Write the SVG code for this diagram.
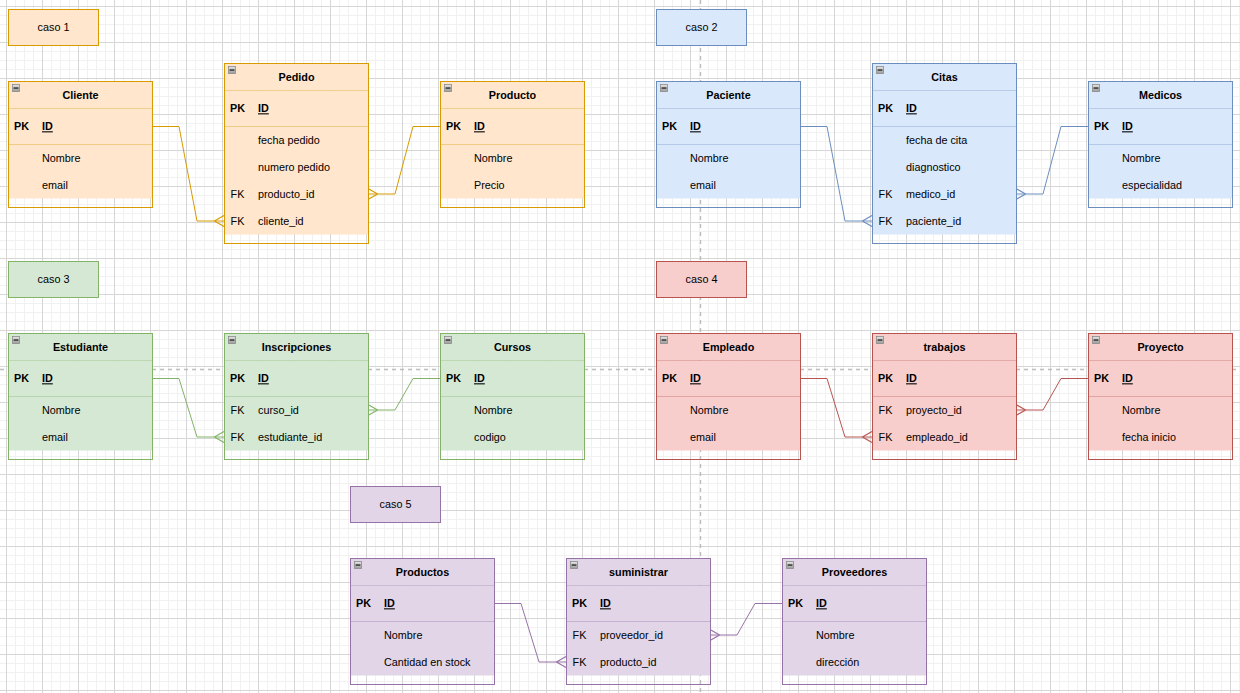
<svg xmlns="http://www.w3.org/2000/svg" xmlns:xlink="http://www.w3.org/1999/xlink" width="1240" height="693" viewBox="0 0 1240 693">
  <style>
    .t { font-family: "Liberation Sans", Arial, Helvetica, sans-serif; font-size: 10.8px; fill: #000; }
    .h { font-weight: bold; text-anchor: middle; }
    .k { text-anchor: middle; }
    .pk { font-weight: bold; }
    .u { text-decoration: underline; }
    .c { text-anchor: middle; }
    .frame { fill: none; stroke-width: 1; }
    .sep { stroke-width: 1; stroke-opacity: 0.35; }
    .orange .hd, .orange .bd, .orange.box { fill: #ffe6cc; }
    .orange .frame, .orange .sep, .orange.box { stroke: #d79b00; }
    .blue .hd, .blue .bd, .blue.box { fill: #dae8fc; }
    .blue .frame, .blue .sep, .blue.box { stroke: #6c8ebf; }
    .green .hd, .green .bd, .green.box { fill: #d5e8d4; }
    .green .frame, .green .sep, .green.box { stroke: #82b366; }
    .red .hd, .red .bd, .red.box { fill: #f8cecc; }
    .red .frame, .red .sep, .red.box { stroke: #b85450; }
    .purple .hd, .purple .bd, .purple.box { fill: #e1d5e7; }
    .purple .frame, .purple .sep, .purple.box { stroke: #9673a6; }
    .edge { fill: none; stroke-width: 1; }
    .e-orange { stroke: #d79b00; marker-end: url(#many-orange); }
    .e-blue { stroke: #6c8ebf; marker-end: url(#many-blue); }
    .e-green { stroke: #82b366; marker-end: url(#many-green); }
    .e-red { stroke: #b85450; marker-end: url(#many-red); }
    .e-purple { stroke: #9673a6; marker-end: url(#many-purple); }
    .guide { stroke: #bdbdbd; stroke-width: 1.4; stroke-dasharray: 4 4; fill: none; }
  </style>
  <defs>
    <pattern id="grid" x="6" y="6" width="36" height="36" patternUnits="userSpaceOnUse">
      <rect width="36" height="36" fill="#ffffff"/>
      <g fill="#f1f1f1">
        <rect x="9" y="0" width="1" height="36"/>
        <rect x="18" y="0" width="1" height="36"/>
        <rect x="27" y="0" width="1" height="36"/>
        <rect x="0" y="9" width="36" height="1"/>
        <rect x="0" y="18" width="36" height="1"/>
        <rect x="0" y="27" width="36" height="1"/>
      </g>
      <g fill="#d6d6d6">
        <rect x="0" y="0" width="1" height="36"/>
        <rect x="0" y="0" width="36" height="1"/>
      </g>
    </pattern>
    <linearGradient id="btn" x1="0" y1="0" x2="0" y2="1">
      <stop offset="0" stop-color="#e6e6e6"/>
      <stop offset="1" stop-color="#9a9a9a"/>
    </linearGradient>
    <symbol id="collapse" width="8" height="8" viewBox="0 0 8 8" overflow="visible">
      <rect x="0.5" y="0.5" width="7" height="7" fill="url(#btn)" stroke="#8a8a8a" stroke-width="0.8"/>
      <rect x="1.6" y="3.4" width="4.8" height="1.3" fill="#222"/>
    </symbol>
    <marker id="many-orange" markerUnits="userSpaceOnUse" markerWidth="12" markerHeight="12" viewBox="0 0 10 10" refX="9" refY="5" orient="auto" overflow="visible">
      <path d="M1,5 L9,0.5 M1,5 L9,9.5" fill="none" stroke="#d79b00" stroke-width="1"/>
    </marker>
    <marker id="many-blue" markerUnits="userSpaceOnUse" markerWidth="12" markerHeight="12" viewBox="0 0 10 10" refX="9" refY="5" orient="auto" overflow="visible">
      <path d="M1,5 L9,0.5 M1,5 L9,9.5" fill="none" stroke="#6c8ebf" stroke-width="1"/>
    </marker>
    <marker id="many-green" markerUnits="userSpaceOnUse" markerWidth="12" markerHeight="12" viewBox="0 0 10 10" refX="9" refY="5" orient="auto" overflow="visible">
      <path d="M1,5 L9,0.5 M1,5 L9,9.5" fill="none" stroke="#82b366" stroke-width="1"/>
    </marker>
    <marker id="many-red" markerUnits="userSpaceOnUse" markerWidth="12" markerHeight="12" viewBox="0 0 10 10" refX="9" refY="5" orient="auto" overflow="visible">
      <path d="M1,5 L9,0.5 M1,5 L9,9.5" fill="none" stroke="#b85450" stroke-width="1"/>
    </marker>
    <marker id="many-purple" markerUnits="userSpaceOnUse" markerWidth="12" markerHeight="12" viewBox="0 0 10 10" refX="9" refY="5" orient="auto" overflow="visible">
      <path d="M1,5 L9,0.5 M1,5 L9,9.5" fill="none" stroke="#9673a6" stroke-width="1"/>
    </marker>
  </defs>

  <!-- canvas grid -->
  <rect width="1240" height="693" fill="url(#grid)"/>

  <!-- dashed guide lines splitting the page -->
  <g id="guides">
    <line class="guide" x1="700.5" y1="0" x2="700.5" y2="693"/>
    <line class="guide" x1="0" y1="369.5" x2="1240" y2="369.5"/>
  </g>

  <!-- case labels -->
  <g id="caso1"><rect class="box orange" x="8.5" y="9.5" width="90" height="36"/><text class="t c" x="53.5" y="31.3">caso 1</text></g>
  <g id="caso2"><rect class="box blue" x="656.5" y="9.5" width="90" height="36"/><text class="t c" x="701.5" y="31.3">caso 2</text></g>
  <g id="caso3"><rect class="box green" x="8.5" y="261.5" width="90" height="36"/><text class="t c" x="53.5" y="283.3">caso 3</text></g>
  <g id="caso4"><rect class="box red" x="656.5" y="261.5" width="90" height="36"/><text class="t c" x="701.5" y="283.3">caso 4</text></g>
  <g id="caso5"><rect class="box purple" x="350.5" y="486.5" width="90" height="36"/><text class="t c" x="395.5" y="508.3">caso 5</text></g>

  <!-- connectors (crow's foot at the "many" end) -->
  <g id="connectors">
    <path class="edge e-orange" d="M152,126.5 H179 L197,221 H224"/>
    <path class="edge e-orange" d="M440,126.5 H413 L395,194 H368"/>
    <path class="edge e-blue" d="M800,126.5 H827 L845,221 H872"/>
    <path class="edge e-blue" d="M1088,126.5 H1061 L1043,194 H1016"/>
    <path class="edge e-green" d="M152,378.5 H179 L197,437 H224"/>
    <path class="edge e-green" d="M440,378.5 H413 L395,410 H368"/>
    <path class="edge e-red" d="M800,378.5 H827 L845,437 H872"/>
    <path class="edge e-red" d="M1088,378.5 H1061 L1043,410 H1016"/>
    <path class="edge e-purple" d="M494,603.5 H521 L539,662 H566"/>
    <path class="edge e-purple" d="M782,603.5 H755 L737,635 H710"/>
  </g>

  <!-- ===== caso 1 ===== -->
  <g id="cliente" class="orange" transform="translate(8.5,81.5)">
    <rect class="hd" width="144" height="27"/><rect class="bd" y="27" width="144" height="90"/>
    <line class="sep" x1="0" y1="27" x2="144" y2="27"/><line class="sep" x1="0" y1="63" x2="144" y2="63"/>
    <rect class="frame" width="144" height="126"/><use href="#collapse" x="3.5" y="2.5" width="8" height="8"/>
    <text class="t h" x="72" y="17.5">Cliente</text>
    <text class="t k pk" x="13" y="48.8">PK</text><text class="t pk u" x="33.5" y="48.8">ID</text>
    <text class="t" x="33.5" y="80.3">Nombre</text>
    <text class="t" x="33.5" y="107.3">email</text>
  </g>
  <g id="pedido" class="orange" transform="translate(224.5,63.5)">
    <rect class="hd" width="144" height="27"/><rect class="bd" y="27" width="144" height="144"/>
    <line class="sep" x1="0" y1="27" x2="144" y2="27"/><line class="sep" x1="0" y1="63" x2="144" y2="63"/>
    <rect class="frame" width="144" height="180"/><use href="#collapse" x="3.5" y="2.5" width="8" height="8"/>
    <text class="t h" x="72" y="17.5">Pedido</text>
    <text class="t k pk" x="13" y="48.8">PK</text><text class="t pk u" x="33.5" y="48.8">ID</text>
    <text class="t" x="33.5" y="80.3">fecha pedido</text>
    <text class="t" x="33.5" y="107.3">numero pedido</text>
    <text class="t k" x="13" y="134.3">FK</text><text class="t" x="33.5" y="134.3">producto_id</text>
    <text class="t k" x="13" y="161.3">FK</text><text class="t" x="33.5" y="161.3">cliente_id</text>
  </g>
  <g id="producto" class="orange" transform="translate(440.5,81.5)">
    <rect class="hd" width="144" height="27"/><rect class="bd" y="27" width="144" height="90"/>
    <line class="sep" x1="0" y1="27" x2="144" y2="27"/><line class="sep" x1="0" y1="63" x2="144" y2="63"/>
    <rect class="frame" width="144" height="126"/><use href="#collapse" x="3.5" y="2.5" width="8" height="8"/>
    <text class="t h" x="72" y="17.5">Producto</text>
    <text class="t k pk" x="13" y="48.8">PK</text><text class="t pk u" x="33.5" y="48.8">ID</text>
    <text class="t" x="33.5" y="80.3">Nombre</text>
    <text class="t" x="33.5" y="107.3">Precio</text>
  </g>

  <!-- ===== caso 2 ===== -->
  <g id="paciente" class="blue" transform="translate(656.5,81.5)">
    <rect class="hd" width="144" height="27"/><rect class="bd" y="27" width="144" height="90"/>
    <line class="sep" x1="0" y1="27" x2="144" y2="27"/><line class="sep" x1="0" y1="63" x2="144" y2="63"/>
    <rect class="frame" width="144" height="126"/><use href="#collapse" x="3.5" y="2.5" width="8" height="8"/>
    <text class="t h" x="72" y="17.5">Paciente</text>
    <text class="t k pk" x="13" y="48.8">PK</text><text class="t pk u" x="33.5" y="48.8">ID</text>
    <text class="t" x="33.5" y="80.3">Nombre</text>
    <text class="t" x="33.5" y="107.3">email</text>
  </g>
  <g id="citas" class="blue" transform="translate(872.5,63.5)">
    <rect class="hd" width="144" height="27"/><rect class="bd" y="27" width="144" height="144"/>
    <line class="sep" x1="0" y1="27" x2="144" y2="27"/><line class="sep" x1="0" y1="63" x2="144" y2="63"/>
    <rect class="frame" width="144" height="180"/><use href="#collapse" x="3.5" y="2.5" width="8" height="8"/>
    <text class="t h" x="72" y="17.5">Citas</text>
    <text class="t k pk" x="13" y="48.8">PK</text><text class="t pk u" x="33.5" y="48.8">ID</text>
    <text class="t" x="33.5" y="80.3">fecha de cita</text>
    <text class="t" x="33.5" y="107.3">diagnostico</text>
    <text class="t k" x="13" y="134.3">FK</text><text class="t" x="33.5" y="134.3">medico_id</text>
    <text class="t k" x="13" y="161.3">FK</text><text class="t" x="33.5" y="161.3">paciente_id</text>
  </g>
  <g id="medicos" class="blue" transform="translate(1088.5,81.5)">
    <rect class="hd" width="144" height="27"/><rect class="bd" y="27" width="144" height="90"/>
    <line class="sep" x1="0" y1="27" x2="144" y2="27"/><line class="sep" x1="0" y1="63" x2="144" y2="63"/>
    <rect class="frame" width="144" height="126"/><use href="#collapse" x="3.5" y="2.5" width="8" height="8"/>
    <text class="t h" x="72" y="17.5">Medicos</text>
    <text class="t k pk" x="13" y="48.8">PK</text><text class="t pk u" x="33.5" y="48.8">ID</text>
    <text class="t" x="33.5" y="80.3">Nombre</text>
    <text class="t" x="33.5" y="107.3">especialidad</text>
  </g>

  <!-- ===== caso 3 ===== -->
  <g id="estudiante" class="green" transform="translate(8.5,333.5)">
    <rect class="hd" width="144" height="27"/><rect class="bd" y="27" width="144" height="90"/>
    <line class="sep" x1="0" y1="27" x2="144" y2="27"/><line class="sep" x1="0" y1="63" x2="144" y2="63"/>
    <rect class="frame" width="144" height="126"/><use href="#collapse" x="3.5" y="2.5" width="8" height="8"/>
    <text class="t h" x="72" y="17.5">Estudiante</text>
    <text class="t k pk" x="13" y="48.8">PK</text><text class="t pk u" x="33.5" y="48.8">ID</text>
    <text class="t" x="33.5" y="80.3">Nombre</text>
    <text class="t" x="33.5" y="107.3">email</text>
  </g>
  <g id="inscripciones" class="green" transform="translate(224.5,333.5)">
    <rect class="hd" width="144" height="27"/><rect class="bd" y="27" width="144" height="90"/>
    <line class="sep" x1="0" y1="27" x2="144" y2="27"/><line class="sep" x1="0" y1="63" x2="144" y2="63"/>
    <rect class="frame" width="144" height="126"/><use href="#collapse" x="3.5" y="2.5" width="8" height="8"/>
    <text class="t h" x="72" y="17.5">Inscripciones</text>
    <text class="t k pk" x="13" y="48.8">PK</text><text class="t pk u" x="33.5" y="48.8">ID</text>
    <text class="t k" x="13" y="80.3">FK</text><text class="t" x="33.5" y="80.3">curso_id</text>
    <text class="t k" x="13" y="107.3">FK</text><text class="t" x="33.5" y="107.3">estudiante_id</text>
  </g>
  <g id="cursos" class="green" transform="translate(440.5,333.5)">
    <rect class="hd" width="144" height="27"/><rect class="bd" y="27" width="144" height="90"/>
    <line class="sep" x1="0" y1="27" x2="144" y2="27"/><line class="sep" x1="0" y1="63" x2="144" y2="63"/>
    <rect class="frame" width="144" height="126"/><use href="#collapse" x="3.5" y="2.5" width="8" height="8"/>
    <text class="t h" x="72" y="17.5">Cursos</text>
    <text class="t k pk" x="13" y="48.8">PK</text><text class="t pk u" x="33.5" y="48.8">ID</text>
    <text class="t" x="33.5" y="80.3">Nombre</text>
    <text class="t" x="33.5" y="107.3">codigo</text>
  </g>

  <!-- ===== caso 4 ===== -->
  <g id="empleado" class="red" transform="translate(656.5,333.5)">
    <rect class="hd" width="144" height="27"/><rect class="bd" y="27" width="144" height="90"/>
    <line class="sep" x1="0" y1="27" x2="144" y2="27"/><line class="sep" x1="0" y1="63" x2="144" y2="63"/>
    <rect class="frame" width="144" height="126"/><use href="#collapse" x="3.5" y="2.5" width="8" height="8"/>
    <text class="t h" x="72" y="17.5">Empleado</text>
    <text class="t k pk" x="13" y="48.8">PK</text><text class="t pk u" x="33.5" y="48.8">ID</text>
    <text class="t" x="33.5" y="80.3">Nombre</text>
    <text class="t" x="33.5" y="107.3">email</text>
  </g>
  <g id="trabajos" class="red" transform="translate(872.5,333.5)">
    <rect class="hd" width="144" height="27"/><rect class="bd" y="27" width="144" height="90"/>
    <line class="sep" x1="0" y1="27" x2="144" y2="27"/><line class="sep" x1="0" y1="63" x2="144" y2="63"/>
    <rect class="frame" width="144" height="126"/><use href="#collapse" x="3.5" y="2.5" width="8" height="8"/>
    <text class="t h" x="72" y="17.5">trabajos</text>
    <text class="t k pk" x="13" y="48.8">PK</text><text class="t pk u" x="33.5" y="48.8">ID</text>
    <text class="t k" x="13" y="80.3">FK</text><text class="t" x="33.5" y="80.3">proyecto_id</text>
    <text class="t k" x="13" y="107.3">FK</text><text class="t" x="33.5" y="107.3">empleado_id</text>
  </g>
  <g id="proyecto" class="red" transform="translate(1088.5,333.5)">
    <rect class="hd" width="144" height="27"/><rect class="bd" y="27" width="144" height="90"/>
    <line class="sep" x1="0" y1="27" x2="144" y2="27"/><line class="sep" x1="0" y1="63" x2="144" y2="63"/>
    <rect class="frame" width="144" height="126"/><use href="#collapse" x="3.5" y="2.5" width="8" height="8"/>
    <text class="t h" x="72" y="17.5">Proyecto</text>
    <text class="t k pk" x="13" y="48.8">PK</text><text class="t pk u" x="33.5" y="48.8">ID</text>
    <text class="t" x="33.5" y="80.3">Nombre</text>
    <text class="t" x="33.5" y="107.3">fecha inicio</text>
  </g>

  <!-- ===== caso 5 ===== -->
  <g id="productos" class="purple" transform="translate(350.5,558.5)">
    <rect class="hd" width="144" height="27"/><rect class="bd" y="27" width="144" height="90"/>
    <line class="sep" x1="0" y1="27" x2="144" y2="27"/><line class="sep" x1="0" y1="63" x2="144" y2="63"/>
    <rect class="frame" width="144" height="126"/><use href="#collapse" x="3.5" y="2.5" width="8" height="8"/>
    <text class="t h" x="72" y="17.5">Productos</text>
    <text class="t k pk" x="13" y="48.8">PK</text><text class="t pk u" x="33.5" y="48.8">ID</text>
    <text class="t" x="33.5" y="80.3">Nombre</text>
    <text class="t" x="33.5" y="107.3">Cantidad en stock</text>
  </g>
  <g id="suministrar" class="purple" transform="translate(566.5,558.5)">
    <rect class="hd" width="144" height="27"/><rect class="bd" y="27" width="144" height="90"/>
    <line class="sep" x1="0" y1="27" x2="144" y2="27"/><line class="sep" x1="0" y1="63" x2="144" y2="63"/>
    <rect class="frame" width="144" height="126"/><use href="#collapse" x="3.5" y="2.5" width="8" height="8"/>
    <text class="t h" x="72" y="17.5">suministrar</text>
    <text class="t k pk" x="13" y="48.8">PK</text><text class="t pk u" x="33.5" y="48.8">ID</text>
    <text class="t k" x="13" y="80.3">FK</text><text class="t" x="33.5" y="80.3">proveedor_id</text>
    <text class="t k" x="13" y="107.3">FK</text><text class="t" x="33.5" y="107.3">producto_id</text>
  </g>
  <g id="proveedores" class="purple" transform="translate(782.5,558.5)">
    <rect class="hd" width="144" height="27"/><rect class="bd" y="27" width="144" height="90"/>
    <line class="sep" x1="0" y1="27" x2="144" y2="27"/><line class="sep" x1="0" y1="63" x2="144" y2="63"/>
    <rect class="frame" width="144" height="126"/><use href="#collapse" x="3.5" y="2.5" width="8" height="8"/>
    <text class="t h" x="72" y="17.5">Proveedores</text>
    <text class="t k pk" x="13" y="48.8">PK</text><text class="t pk u" x="33.5" y="48.8">ID</text>
    <text class="t" x="33.5" y="80.3">Nombre</text>
    <text class="t" x="33.5" y="107.3">dirección</text>
  </g>
</svg>
